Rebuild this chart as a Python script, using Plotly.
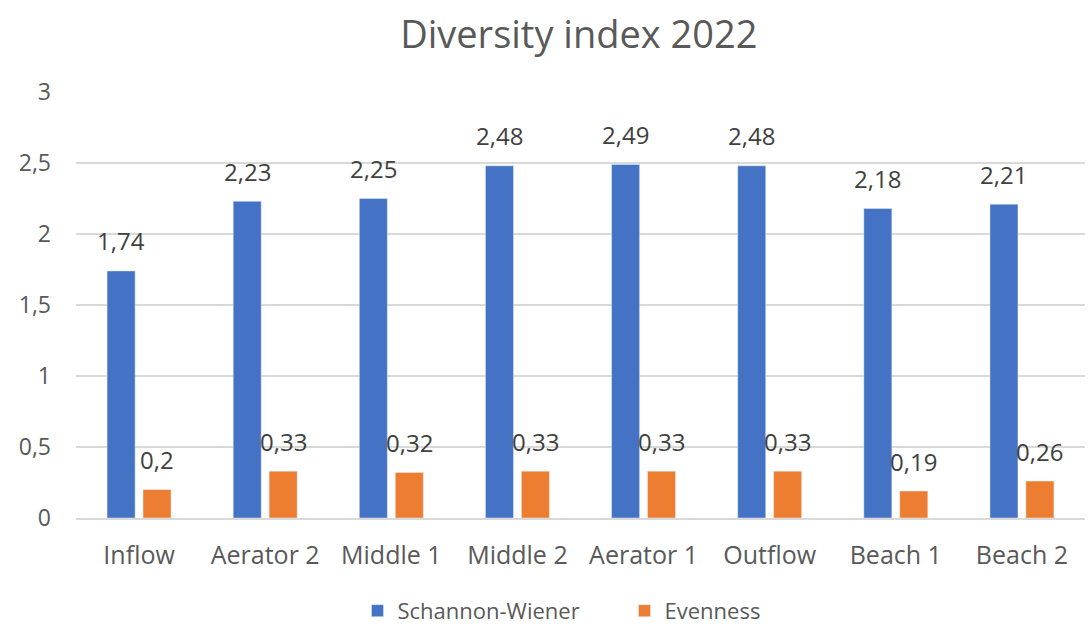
import plotly.graph_objects as go

categories = ["Inflow", "Aerator 2", "Middle 1", "Middle 2", "Aerator 1", "Outflow", "Beach 1", "Beach 2"]
shannon = [1.74, 2.23, 2.25, 2.48, 2.49, 2.48, 2.18, 2.21]
evenness = [0.2, 0.33, 0.32, 0.33, 0.33, 0.33, 0.19, 0.26]
y_ticks = [0, 0.5, 1, 1.5, 2, 2.5, 3]
y_tick_labels = ["0", "0,5", "1", "1,5", "2", "2,5", "3"]

def fmt(v):
    return ("%g" % v).replace(".", ",")

FONT = "Open Sans"
TXT = "#595959"
LBL = "#404040"

fig = go.Figure()
fig.add_trace(go.Bar(name="Schannon-Wiener", x=categories, y=shannon,
                     marker=dict(color="#4472C4")))
fig.add_trace(go.Bar(name="Evenness", x=categories, y=evenness,
                     marker=dict(color="#ED7D31")))

annotations = []
for series, dx in ((shannon, -18), (evenness, 18)):
    for c, v in zip(categories, series):
        annotations.append(dict(x=c, y=v, xref="x", yref="y", text=fmt(v),
                                showarrow=False, xanchor="center", yanchor="middle",
                                xshift=dx, yshift=30,
                                font=dict(size=24, color=LBL, family=FONT)))

fig.update_layout(
    width=1090, height=627,
    margin=dict(l=76, r=5, t=92, b=109, autoexpand=False),
    paper_bgcolor="white", plot_bgcolor="white",
    title=dict(text="Diversity index 2022", x=0.531, xanchor="center", y=0.944, yanchor="middle",
               font=dict(size=38, color=TXT, family=FONT)),
    barmode="group", bargap=0.43, bargroupgap=0.22,
    font=dict(family=FONT, color=TXT),
    showlegend=True,
    legend=dict(orientation="h", x=0.279, xanchor="left", y=-0.218, yanchor="middle",
                font=dict(size=22, color=TXT, family=FONT), itemwidth=30,
                entrywidth=222, entrywidthmode="pixels",
                traceorder="normal"),
    xaxis=dict(showgrid=False, showline=True, linecolor="#d9d9d9", linewidth=1.5,
               tickfont=dict(size=25, color=TXT), ticks="", ticklabelstandoff=14,
               automargin=False),
    yaxis=dict(range=[0, 3], tickvals=y_ticks, ticktext=y_tick_labels,
               showgrid=True, gridcolor="#d9d9d9", gridwidth=1.5, zeroline=False,
               showline=False, tickfont=dict(size=23, color=TXT), ticks="",
               ticklabelstandoff=24, automargin=False),
    annotations=annotations,
)

fig.write_html("out.html")
